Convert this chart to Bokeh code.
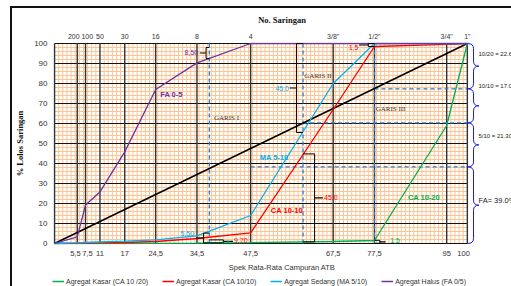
from bokeh.plotting import figure
from bokeh.layouts import column
from bokeh.models import Range1d, FixedTicker, LinearAxis, Legend, LegendItem
from bokeh.embed import file_html
from bokeh.resources import INLINE
from bokeh.core.properties import value

# ---------------- data ----------------
sieve_x = [5.5, 7.5, 11, 17, 24.5, 34.5, 47.5, 67.5, 77.5, 95, 100]
sieve_bottom_labels = ["5,5", "7,5", "11", "17", "24,5", "34,5", "47,5", "67,5", "77,5", "95", "100"]
sieve_top_labels = ["200", "100", "50", "30", "16", "8", "4", '3/8"', '1/2"', '3/4"', '1"']

curve_x = [0, 5.5, 7.5, 11, 17, 24.5, 34.5, 47.5, 67.5, 77.5, 95, 100]
ca_10_20 = [0, 0, 0, 0, 0, 0.1, 0.2, 0.4, 1.0, 1.5, 59, 100]
ca_10_10 = [0, 0.1, 0.2, 0.3, 0.5, 1.0, 2.5, 5.3, 67, 98.5, 99.6, 100]
ma_5_10 = [0, 0.3, 0.5, 0.8, 1.2, 1.8, 3.8, 14, 80, 100, 100, 100]
fa_0_5 = [0, 3.3, 19.2, 25.8, 45.8, 77, 90.3, 100, 100, 100, 100, 100]
ideal_x = [0, 100]
ideal_y = [0, 100]

series_names = ["Agregat Kasar (CA 10 /20)", "Agregat Kasar (CA 10/10)",
                "Agregat Sedang (MA 5/10)", "Agregat Halus (FA 0/5)"]
series_tags = ["CA 10-20", "CA 10-10", "MA 5-10", "FA 0-5"]

garis_x = [37.5, 60.2, 77.5]
garis_names = ["GARIS I", "GARIS II", "GARIS III"]
split_y = [77.35, 60.3, 38.3]
split_x_start = [77.5, 60.2, 47.5]
brace_bounds = [100, 77.35, 60.3, 38.3, 0]
brace_texts = ["10/20 = 22.65", "10/10 = 17.05", "5/10 = 21.30", "FA= 39.0%"]

# brackets: vertical x, top, bottom, arm end x, tick end x
bracket_x = [36.7, 58.6, 63.0, 36.1, 40.9, 76.0, 78.8]
bracket_top = [98.0, 100, 44.8, 5.2, 1.8, 100, 1.6]
bracket_bot = [92.5, 55.5, 0.8, 0.3, 0.3, 98.5, 0.1]
bracket_arm = [37.5, 60.2, 60.2, 37.5, 37.5, 77.5, 77.5]
bracket_tick = [35.2, 57.0, 65.0, 34.3, 43.2, 73.8, 80.2]
bracket_texts = ["8,50", "45,0", "45,0", "5,50", "9,70", "1,5", "1,5"]

# ---------------- styles ----------------
C_GREEN = "#00B050"
C_RED = "#FF0000"
C_CYAN = "#00B0F0"
C_PURPLE = "#7030A0"
C_DASH = "#2E7BCF"
C_BRACE = "#1A1AE6"
C_ORANGE = "#FAC592"
SANS = value("Liberation Sans")
EN = "\u2002"  # en space used to nudge crowded tick labels apart

p = figure(width=499, height=266,
           x_range=Range1d(-0.5, 110.7), y_range=Range1d(-0.5, 100.5),
           output_backend="svg", toolbar_location=None,
           x_axis_location=None, y_axis_location=None,
           min_border_left=38, min_border_right=0, min_border_top=34, min_border_bottom=30)
p.outline_line_color = None
p.background_fill_color = "white"
p.border_fill_color = "white"
p.grid.visible = False

# title used as the "No. Saringan" header
p.title.text = "No. Saringan"
p.title.text_font = "Liberation Serif"
p.title.text_font_size = "8.5px"
p.title.text_font_style = "bold"
p.title.text_color = "#111111"
p.title.align = "center"
p.title.offset = -24
p.title.standoff = 9

# ---------------- grid (drawn only over 0..100) ----------------
minor_v = [v for v in range(1, 100) if v not in sieve_x]
minor_h = [v for v in range(2, 100, 2) if v % 10 != 0]
major_h = list(range(0, 101, 10))
major_v = [0] + sieve_x
p.segment(x0=minor_v, y0=0, x1=minor_v, y1=100, line_color=C_ORANGE, line_width=1)
p.segment(x0=0, y0=minor_h, x1=100, y1=minor_h, line_color=C_ORANGE, line_width=1)
p.segment(x0=0, y0=major_h, x1=100, y1=major_h, line_color="#111111", line_width=1)
p.segment(x0=major_v, y0=0, x1=major_v, y1=100, line_color="#333333", line_width=1.4)

# ---------------- dashed construction lines ----------------
p.segment(x0=garis_x, y0=0, x1=garis_x, y1=100, line_color=C_DASH, line_width=1.3, line_dash="4 3")
p.segment(x0=split_x_start, y0=split_y, x1=100, y1=split_y, line_color=C_DASH, line_width=1.3,
          line_dash="4 3")

# ---------------- curves ----------------
p.line(ideal_x, ideal_y, line_color="black", line_width=1.5)
p.line(curve_x, ca_10_20, line_color=C_GREEN, line_width=1.3)
p.line(curve_x, ca_10_10, line_color=C_RED, line_width=1.3)
p.line(curve_x, ma_5_10, line_color=C_CYAN, line_width=1.3)
p.line(curve_x, fa_0_5, line_color=C_PURPLE, line_width=1.3)

# ---------------- brackets ----------------
mid = [(t + b) / 2 for t, b in zip(bracket_top, bracket_bot)]
p.segment(x0=bracket_x, y0=bracket_top, x1=bracket_x, y1=bracket_bot, line_color="black", line_width=1)
p.segment(x0=bracket_x, y0=bracket_top, x1=bracket_arm, y1=bracket_top, line_color="black", line_width=1)
p.segment(x0=bracket_x, y0=bracket_bot, x1=bracket_arm, y1=bracket_bot, line_color="black", line_width=1)
p.segment(x0=bracket_x, y0=mid, x1=bracket_tick, y1=mid, line_color="black", line_width=1.2)

bl_colors = [C_PURPLE, C_CYAN, C_RED, C_CYAN, C_RED, C_RED, C_GREEN]
bl_x = [34.8, 56.8, 65.3, 33.8, 43.5, 73.6, 81.3]
bl_y = [95.3, 77.7, 22.8, 5.0, 1.6, 97.8, 1.4]
bl_align = ["right", "right", "left", "right", "left", "right", "left"]
for i, t in enumerate(bracket_texts):
    p.text(x=[bl_x[i]], y=[bl_y[i]], text=[t], text_color=bl_colors[i], text_font=SANS,
           text_font_size="7px", text_align=bl_align[i], text_baseline="middle")
p.text(x=[40.3], y=[0.2], text=["1,5"], text_color=C_GREEN, text_font=SANS,
       text_font_size="7px", text_align="left", text_baseline="middle")

# ---------------- braces on the right ----------------
bx0, bw, btip, br = 100.0, 1.5, 2.8, 2.5
for top, bot in zip(brace_bounds[:-1], brace_bounds[1:]):
    ym = (top + bot) / 2
    p.quadratic(x0=[bx0, bx0 + bw, bx0 + btip, bx0 + bw],
                y0=[top, ym + br, ym, bot + br],
                x1=[bx0 + bw, bx0 + btip, bx0 + bw, bx0],
                y1=[top - br, ym, ym - br, bot],
                cx=[bx0 + bw, bx0 + bw, bx0 + bw, bx0 + bw],
                cy=[top, ym, ym, bot],
                line_color=C_BRACE, line_width=1)
    p.segment(x0=[bx0 + bw, bx0 + bw], y0=[top - br, ym - br], x1=[bx0 + bw, bx0 + bw],
              y1=[ym + br, bot + br], line_color=C_BRACE, line_width=1)

brace_label_y = [95.0, 78.6, 54.0, 21.6]
brace_label_size = ["6px", "6px", "6px", "7.5px"]
for t, yy, fs in zip(brace_texts, brace_label_y, brace_label_size):
    p.text(x=[102.7], y=[yy], text=[t], text_color="#222222", text_font=SANS,
           text_font_size=fs, text_align="left", text_baseline="middle")

# ---------------- curve & garis labels ----------------
tag_x = [85.6, 52.4, 49.7, 25.6]
tag_y = [22.9, 16.6, 43.1, 74.3]
tag_c = [C_GREEN, C_RED, C_CYAN, C_PURPLE]
for t, xx, yy, c in zip(series_tags, tag_x, tag_y, tag_c):
    p.text(x=[xx], y=[yy], text=[t], text_color=c, text_font=SANS, text_font_size="7.5px",
           text_font_style="bold", text_align="left", text_baseline="middle")

garis_lx = [38.6, 60.5, 77.8]
garis_ly = [62.7, 83.7, 67.1]
for t, xx, yy in zip(garis_names, garis_lx, garis_ly):
    p.text(x=[xx], y=[yy], text=[t], text_color="#333333", text_font=value("Liberation Serif"),
           text_font_size="7px", text_align="left", text_baseline="middle")

# ---------------- axes ----------------
bottom_disp = list(sieve_bottom_labels)
bottom_disp[0] = bottom_disp[0] + EN
bottom_disp[1] = EN + bottom_disp[1]
bottom_disp[-1] = bottom_disp[-1] + EN + EN
top_disp = list(sieve_top_labels)
top_disp[0] = top_disp[0] + EN + EN
top_disp[1] = EN + top_disp[1]

ax_b = LinearAxis(ticker=FixedTicker(ticks=sieve_x),
                  major_label_overrides={x: l for x, l in zip(sieve_x, bottom_disp)})
ax_b.axis_label = "Spek Rata-Rata Campuran ATB"
ax_t = LinearAxis(ticker=FixedTicker(ticks=sieve_x),
                  major_label_overrides={x: l for x, l in zip(sieve_x, top_disp)})
ax_l = LinearAxis(ticker=FixedTicker(ticks=major_h))
ax_l.axis_label = "% Lolos Saringan"
for ax in (ax_b, ax_t, ax_l):
    ax.axis_line_color = None
    ax.major_tick_line_color = None
    ax.minor_tick_line_color = None
    ax.major_tick_out = 0
    ax.major_tick_in = 0
    ax.major_label_text_font = "Liberation Sans"
    ax.major_label_text_color = "#333333"
ax_l.major_label_text_font_size = "8px"
ax_b.major_label_text_font_size = "7.5px"
ax_t.major_label_text_font_size = "7px"
ax_b.major_label_standoff = 4
ax_t.major_label_standoff = 3
ax_l.major_label_standoff = 5
ax_b.axis_label_text_font = "Liberation Sans"
ax_b.axis_label_text_font_size = "7.5px"
ax_b.axis_label_text_font_style = "normal"
ax_b.axis_label_text_color = "#333333"
ax_b.axis_label_standoff = 2
ax_l.axis_label_text_font = "Liberation Serif"
ax_l.axis_label_text_font_size = "8.5px"
ax_l.axis_label_text_font_style = "bold"
ax_l.axis_label_text_color = "#111111"
ax_l.axis_label_standoff = 6
p.add_layout(ax_b, "below")
p.add_layout(ax_t, "above")
p.add_layout(ax_l, "left")

# ---------------- legend strip (separate small figure) ----------------
lf = figure(width=499, height=12, x_range=Range1d(0, 10), y_range=Range1d(0, 10),
            output_backend="svg", toolbar_location=None,
            x_axis_location=None, y_axis_location=None,
            min_border_left=0, min_border_right=0, min_border_top=0, min_border_bottom=0)
lf.outline_line_color = None
lf.grid.visible = False
leg_colors = [C_GREEN, C_RED, C_CYAN, C_PURPLE]
# off-screen stand-ins so the legend can draw its line samples
leg_renderers = [lf.line([-5, -4], [-5, -5], line_color=c, line_width=1.5) for c in leg_colors]
legend = Legend(items=[LegendItem(label=n, renderers=[r]) for n, r in zip(series_names, leg_renderers)],
                orientation="horizontal", location=(0, 1))
legend.label_text_font = "Liberation Sans"
legend.label_text_font_size = "7px"
legend.label_text_color = "#333333"
legend.glyph_width = 12
legend.glyph_height = 8
legend.label_height = 8
legend.label_standoff = 2
legend.spacing = 14
legend.padding = 1
legend.margin = 0
legend.border_line_color = None
legend.background_fill_alpha = 0
lf.add_layout(legend)

layout = column(p, lf, spacing=0,
                styles={"border-top": "2px solid #111", "border-left": "2px solid #111",
                        "margin-left": "10px", "margin-top": "6px"})

open("out.html", "w").write(file_html(layout, INLINE))
